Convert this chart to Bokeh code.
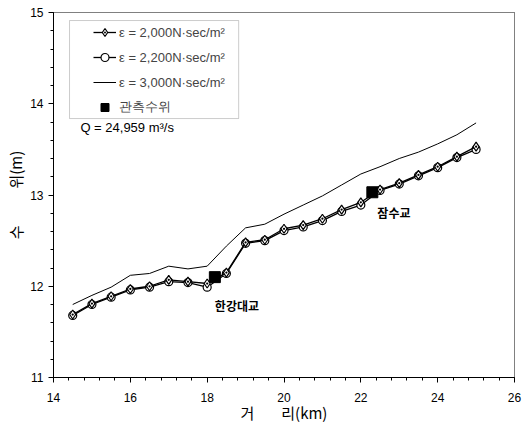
from bokeh.plotting import figure
from bokeh.models import Range1d, Legend, LegendItem, Label, SingleIntervalTicker, BoxAnnotation
from bokeh.embed import file_html
from bokeh.resources import INLINE

distance = [14.5, 15.0, 15.5, 16.0, 16.5, 17.0, 17.5, 18.0, 18.5, 19.0, 19.5,
            20.0, 20.5, 21.0, 21.5, 22.0, 22.5, 23.0, 23.5, 24.0, 24.5, 25.0]
eps2000 = [11.69, 11.81, 11.89, 11.97, 12.00, 12.07, 12.05, 12.03, 12.15, 12.48, 12.51,
           12.63, 12.67, 12.74, 12.84, 12.92, 13.06, 13.13, 13.22, 13.31, 13.42, 13.53]
eps2200 = [11.68, 11.80, 11.88, 11.96, 11.99, 12.05, 12.04, 11.99, 12.14, 12.47, 12.50,
           12.61, 12.65, 12.72, 12.82, 12.89, 13.05, 13.12, 13.21, 13.30, 13.41, 13.50]
eps3000 = [11.80, 11.90, 11.99, 12.12, 12.14, 12.22, 12.19, 12.22, 12.44, 12.64, 12.68,
           12.79, 12.89, 12.99, 13.11, 13.23, 13.31, 13.40, 13.47, 13.56, 13.66, 13.79]
obs_x = [18.2, 22.3]
obs_y = [12.10, 13.03]
obs_names = ["한강대교", "잠수교"]
legend_labels = ["ε = 2,000N·sec/m²", "ε = 2,200N·sec/m²", "ε = 3,000N·sec/m²", "관측수위"]

FONT = "Liberation Sans"
KFONT = "Noto Sans CJK KR"

p = figure(width=522, height=431, x_range=Range1d(14, 26), y_range=Range1d(11, 15),
           output_backend="svg", toolbar_location=None,
           min_border_left=53, min_border_right=8, min_border_top=12, min_border_bottom=54)
p.grid.visible = False
p.outline_line_color = "black"
p.outline_line_dash = "1 1"
p.outline_line_width = 1

p.xaxis.ticker = SingleIntervalTicker(interval=2, num_minor_ticks=5)
p.yaxis.ticker = SingleIntervalTicker(interval=1, num_minor_ticks=5)
for ax in (p.xaxis, p.yaxis):
    ax.major_tick_out = 5
    ax.major_tick_in = 0
    ax.minor_tick_out = 3
    ax.minor_tick_in = 0
    ax.axis_line_color = "black"
    ax.major_tick_line_color = "black"
    ax.minor_tick_line_color = "black"
    ax.major_label_text_font = FONT
    ax.major_label_text_font_size = "12px"
    ax.major_label_text_color = "black"
    ax.axis_label_text_font = KFONT
    ax.axis_label_text_font_size = "15px"
    ax.axis_label_text_font_style = "normal"
    ax.axis_label_text_color = "black"

nb = "\u00a0"
p.xaxis.axis_label = "거" + nb * 8 + "리(km)"
p.yaxis.axis_label = "수" + nb * 11 + "위(m)"
p.xaxis.major_label_standoff = 10
p.yaxis.major_label_standoff = 5
p.xaxis.axis_label_standoff = -3
p.yaxis.axis_label_standoff = 1

r3000 = p.line(distance, eps3000, line_color="black", line_width=1)
r2200l = p.line(distance, eps2200, line_color="black", line_width=1.3)
r2200m = p.scatter(distance, eps2200, marker="circle", size=8, fill_color="white",
                   line_color="black", line_width=1.2)
r2000l = p.line(distance, eps2000, line_color="black", line_width=1.3)
r2000m = p.scatter(distance, eps2000, marker="diamond_dot", size=9, fill_color="white",
                   line_color="black", line_width=1.2)
robs = p.scatter(obs_x, obs_y, marker="square", size=11, fill_color="black", line_color="black")

label_offsets = [(0, -28), (5, -20)]
for nx, ny, nm, (ox, oy) in zip(obs_x, obs_y, obs_names, label_offsets):
    p.add_layout(Label(x=nx, y=ny, text=nm, x_offset=ox, y_offset=oy,
                       text_font=KFONT, text_font_size="12px", text_font_style="bold",
                       text_color="black", text_baseline="middle", text_align="left"))

# legend frame
p.add_layout(BoxAnnotation(left=14.417, right=18.82, top=14.912, bottom=13.838,
                           fill_color="white", fill_alpha=1, line_color="#555555",
                           line_width=1, level="overlay"))

legend = Legend(items=[
    LegendItem(label=legend_labels[0], renderers=[r2000l, r2000m]),
    LegendItem(label=legend_labels[1], renderers=[r2200l, r2200m]),
    LegendItem(label=legend_labels[2], renderers=[r3000]),
    LegendItem(label=legend_labels[3], renderers=[robs]),
], location=(40, 260))
legend.margin = 0
legend.padding = 0
legend.spacing = 5
legend.label_height = 20
legend.glyph_height = 20
legend.glyph_width = 23
legend.label_standoff = 3
legend.label_text_font = FONT
legend.label_text_font_size = "13px"
legend.border_line_color = None
legend.background_fill_alpha = 0
p.add_layout(legend)

p.add_layout(Label(x=14.7, y=13.74, text="Q = 24,959 m³/s", text_font=FONT,
                   text_font_size="13px", text_color="black", text_baseline="middle"))

open("out.html", "w").write(file_html(p, INLINE))
